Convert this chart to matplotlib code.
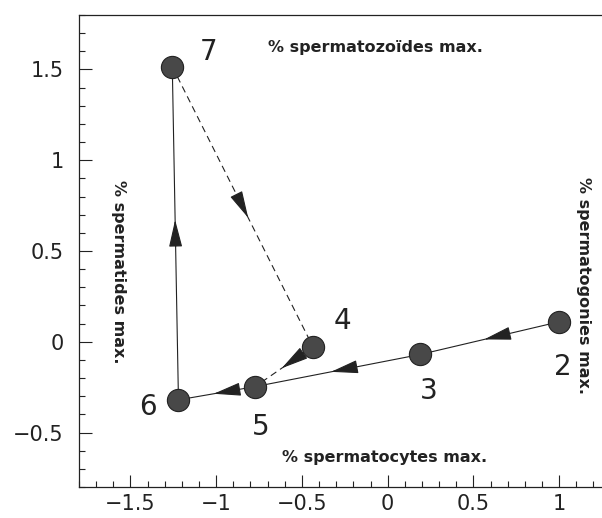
import matplotlib
matplotlib.use('Agg')
import matplotlib.pyplot as plt
from matplotlib.ticker import MultipleLocator

# stage coordinates
stages = ['2', '3', '4', '5', '6', '7']
xs = [1.0, 0.19, -0.436, -0.773, -1.22, -1.256]
ys = [0.11, -0.07, -0.027, -0.247, -0.32, 1.516]

# path between stages: (from, to, dashed?)
path = [('2', '3', False), ('3', '5', False), ('5', '6', False),
        ('6', '7', False), ('7', '4', True), ('4', '5', True)]

# label offsets (data units)
lab_dx = {'2': 0.02, '3': 0.05, '4': 0.17, '5': 0.03, '6': -0.18, '7': 0.21}
lab_dy = {'2': -0.25, '3': -0.2, '4': 0.14, '5': -0.22, '6': -0.04, '7': 0.08}

pos = {s: (x, y) for s, x, y in zip(stages, xs, ys)}

fig = plt.figure(figsize=(6.02, 5.18), dpi=100)
ax = fig.add_axes([79 / 602, 31 / 518, 1 - 79 / 602, 472 / 518])

ink = '#222222'
for a, b, dashed in path:
    (x0, y0), (x1, y1) = pos[a], pos[b]
    ax.plot([x0, x1], [y0, y1], color=ink, lw=0.8,
            ls=(0, (6, 4)) if dashed else '-', zorder=1)
    mx, my = (x0 + x1) / 2, (y0 + y1) / 2
    dx, dy = (x1 - x0) * 0.04, (y1 - y0) * 0.04
    ax.annotate('', xy=(mx + dx, my + dy), xytext=(mx - dx, my - dy),
                arrowprops=dict(arrowstyle='-|>,head_length=0.9,head_width=0.22',
                                color=ink, lw=0.8, mutation_scale=19,
                                shrinkA=0, shrinkB=0), zorder=2)

ax.plot(xs, ys, 'o', ls='none', ms=16, color='#484848', mec='#222222',
        mew=0.8, zorder=3)

for s, x, y in zip(stages, xs, ys):
    ax.text(x + lab_dx[s], y + lab_dy[s], s, fontsize=20, ha='center',
            va='center', color=ink)

ax.text(-0.07, 1.62, '% spermatozoïdes max.', fontsize=11.5, fontweight='bold',
        ha='center', va='center', color=ink)
ax.text(-0.02, -0.64, '% spermatocytes max.', fontsize=11.5, fontweight='bold',
        ha='center', va='center', color=ink)
ax.text(-1.57, 0.385, '% spermatides max.', fontsize=11.5, fontweight='bold',
        rotation=-90, ha='center', va='center', color=ink)
ax.text(1.145, 0.31, '% spermatogonies max.', fontsize=11.5, fontweight='bold',
        rotation=-90, ha='center', va='center', color=ink)

ax.set_xlim(-1.8, 1.25)
ax.set_ylim(-0.8, 1.8)
ax.set_xticks([-1.5, -1, -0.5, 0, 0.5, 1])
ax.set_xticklabels(['−1.5', '−1', '−0.5', '0', '0.5', '1'])
ax.set_yticks([-0.5, 0, 0.5, 1, 1.5])
ax.set_yticklabels(['−0.5', '0', '0.5', '1', '1.5'])
ax.xaxis.set_minor_locator(MultipleLocator(0.1))
ax.yaxis.set_minor_locator(MultipleLocator(0.1))
ax.tick_params(which='both', direction='in', top=False, right=False,
               color=ink, width=0.8)
ax.tick_params(which='major', length=9, labelsize=15, labelcolor=ink)
ax.tick_params(which='minor', length=4.5)
ax.tick_params(axis='x', which='major', pad=5)
ax.tick_params(axis='y', which='major', pad=11)
ax.spines['right'].set_visible(False)
for sp in ['left', 'bottom', 'top']:
    ax.spines[sp].set_linewidth(0.9)
    ax.spines[sp].set_color(ink)

fig.savefig('out.png', dpi=100)
